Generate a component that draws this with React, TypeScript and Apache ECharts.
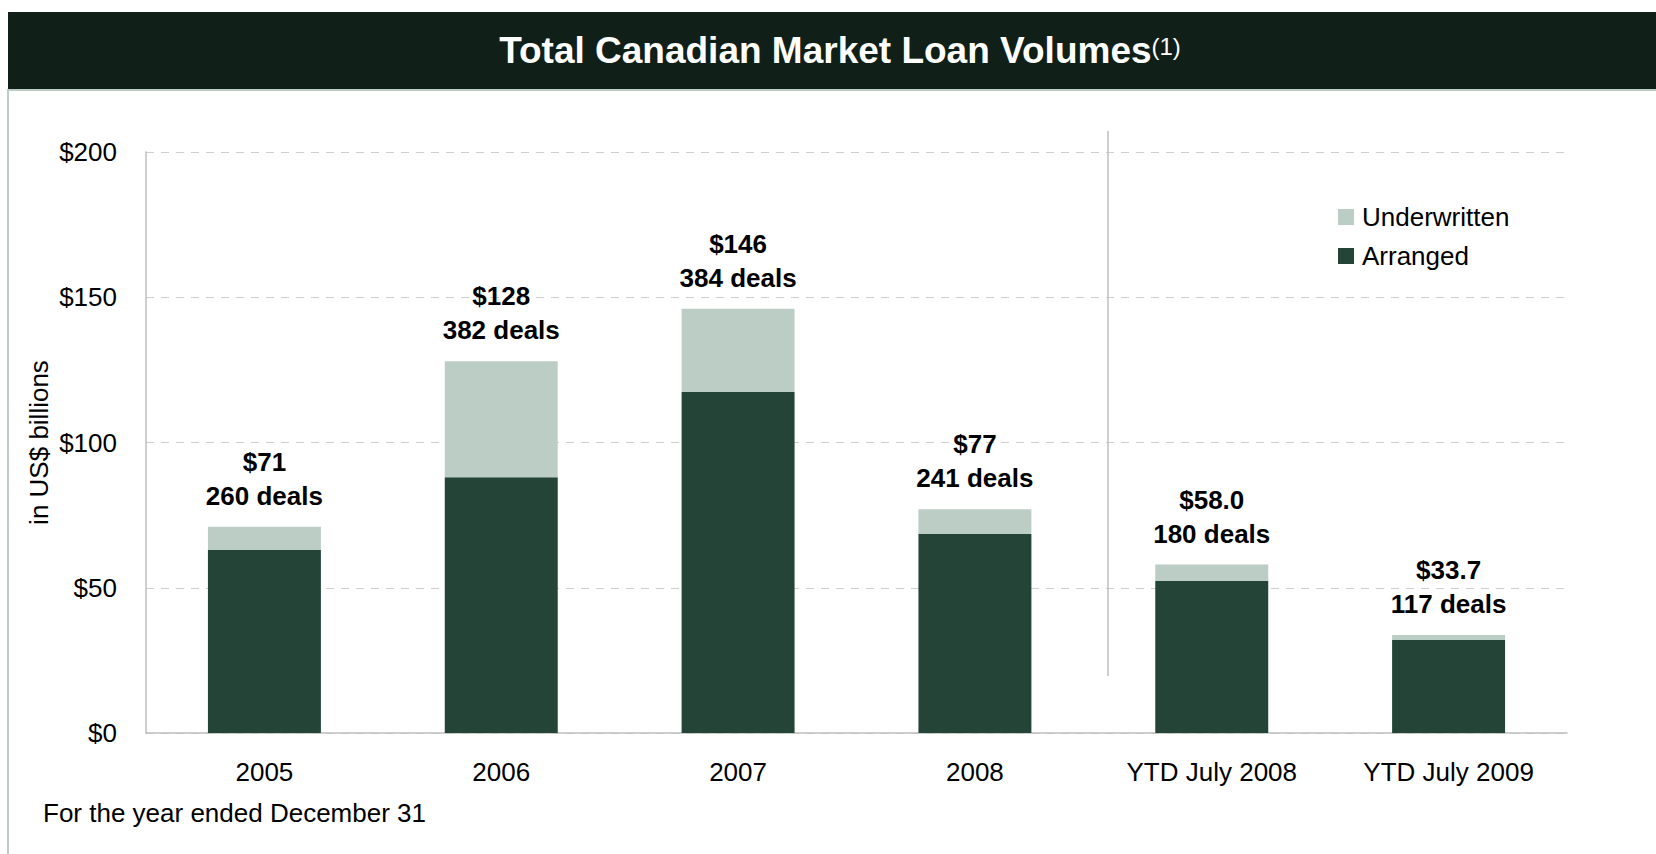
import React, { useEffect, useRef } from "react";
import * as echarts from "echarts";

const categories = ["2005", "2006", "2007", "2008", "YTD July 2008", "YTD July 2009"];
const arranged = [63, 88, 117.4, 68.5, 52.3, 32.0];
const underwritten = [8, 40, 28.6, 8.5, 5.7, 1.7];
const totalLabels = ["$71", "$128", "$146", "$77", "$58.0", "$33.7"];
const deals = [260, 382, 384, 241, 180, 117];
const yTicks = [0, 50, 100, 150, 200];

const FONT = '"Liberation Sans", Arial, Helvetica, sans-serif';
const DARK = "#244438";
const LIGHT = "#bccdc5";

export default function App() {
  const ref = useRef<HTMLDivElement>(null);
  useEffect(() => {
    if (!ref.current) return;
    const chart = echarts.init(ref.current, undefined, { renderer: "svg" });
    const option: any = {
      animation: false,
      backgroundColor: "#ffffff",
      textStyle: { fontFamily: FONT },
      grid: { left: 146, right: 89, top: 152, bottom: 121, containLabel: false },
      legend: {
        orient: "vertical",
        left: 1338,
        top: 204,
        padding: 0,
        itemWidth: 16,
        itemHeight: 16,
        itemGap: 13,
        icon: "rect",
        data: ["Underwritten", "Arranged"],
        textStyle: { fontFamily: FONT, fontSize: 26, lineHeight: 26, color: "#000", padding: [0, 0, 0, 3] },
      },
      xAxis: {
        type: "category",
        data: categories,
        axisLine: { show: true, lineStyle: { color: "#bfbfbf", width: 1.5 } },
        axisTick: { show: false },
        axisLabel: { fontFamily: FONT, fontSize: 26, lineHeight: 26, color: "#000", margin: 26, interval: 0 },
      },
      yAxis: {
        type: "value",
        min: yTicks[0],
        max: yTicks[yTicks.length - 1],
        interval: 50,
        name: "in US$ billions",
        nameLocation: "middle",
        nameRotate: 90,
        nameGap: 94,
        nameMoveOverlap: false,
        nameTextStyle: { fontFamily: FONT, fontSize: 26, lineHeight: 26, color: "#000" },
        axisLine: { show: true, lineStyle: { color: "#bfbfbf", width: 1.5 } },
        axisTick: { show: false },
        axisLabel: { fontFamily: FONT, fontSize: 26, color: "#000", margin: 29, formatter: (v: number) => "$" + v },
        splitLine: { show: true, lineStyle: { color: "#cfcfcf", width: 1, type: [8, 7] } },
      },
      series: [
        {
          name: "Arranged",
          type: "bar",
          stack: "total",
          data: arranged,
          barCategoryGap: "52.3%",
          itemStyle: { color: DARK },
        },
        {
          name: "Underwritten",
          type: "bar",
          stack: "total",
          data: underwritten,
          barCategoryGap: "52.3%",
          itemStyle: { color: LIGHT },
          label: {
            show: true,
            position: "top",
            distance: 14,
            fontFamily: FONT,
            fontSize: 26,
            fontWeight: "bold",
            lineHeight: 34,
            color: "#000",
            formatter: (p: any) => totalLabels[p.dataIndex] + "\n" + deals[p.dataIndex] + " deals",
          },
        },
      ],
      graphic: [
        { type: "rect", shape: { x: 8, y: 12, width: 1648, height: 77 }, style: { fill: "#101f17" }, z: 0 },
        { type: "rect", shape: { x: 8, y: 89, width: 1648, height: 2 }, style: { fill: LIGHT }, z: 0 },
        { type: "rect", shape: { x: 7, y: 89, width: 2, height: 765 }, style: { fill: LIGHT }, z: 0 },
        {
          type: "text",
          x: 840,
          y: 29,
          z: 10,
          style: {
            text: "{a|Total Canadian Market Loan Volumes}{b|(1)}",
            align: "center",
            verticalAlign: "top",
            rich: {
              a: { fontFamily: FONT, fontSize: 37, fontWeight: "bold", fill: "#ffffff", lineHeight: 43, verticalAlign: "middle" },
              b: { fontFamily: FONT, fontSize: 24, fill: "#ffffff", lineHeight: 24, verticalAlign: "top", padding: [5, 0, 0, 0] },
            },
          },
        },
        {
          type: "line",
          shape: { x1: 1108, y1: 131, x2: 1108, y2: 676 },
          style: { stroke: "#bfbfbf", lineWidth: 1.5 },
          z: 10,
        },
        {
          type: "text",
          x: 43,
          y: 813,
          style: { text: "For the year ended December 31", fontFamily: FONT, fontSize: 26, fill: "#000", verticalAlign: "middle", align: "left" },
        },
      ],
    };
    chart.setOption(option);
    return () => chart.dispose();
  }, []);
  return <div ref={ref} style={{ position: "fixed", left: 0, top: 0, width: 1656, height: 854 }} />;
}
